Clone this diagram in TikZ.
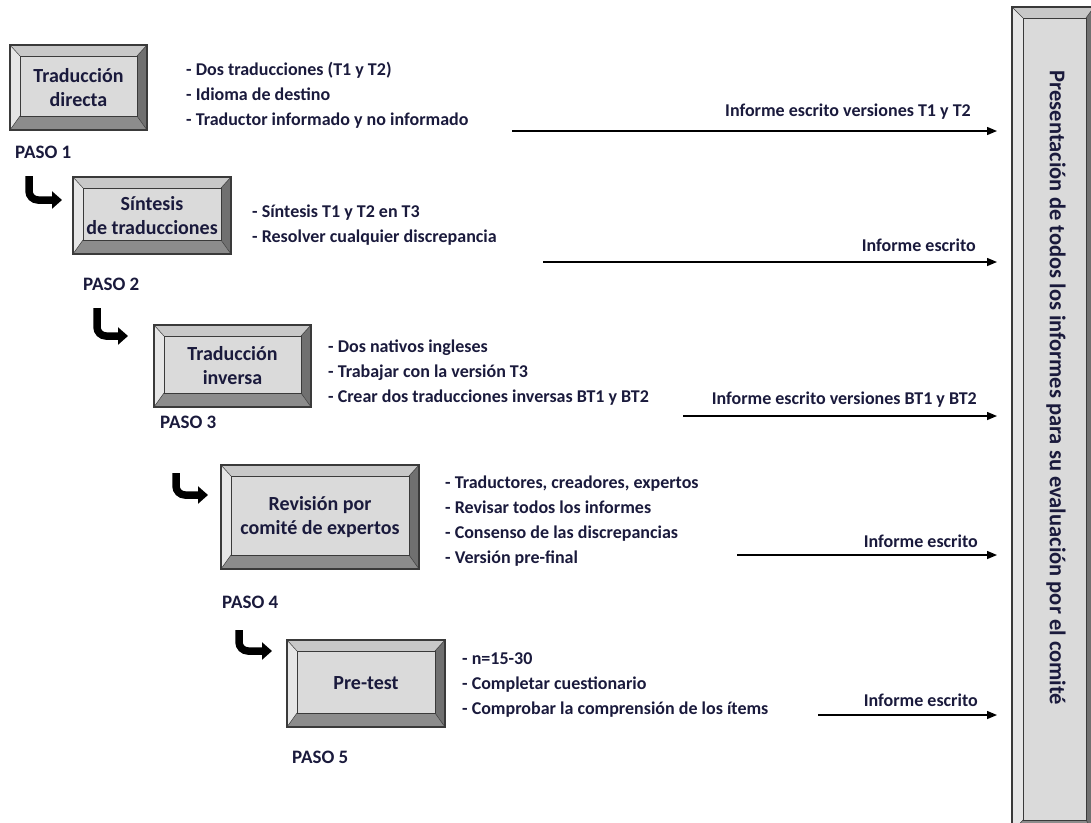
\documentclass[tikz,border=0pt]{standalone}
\usepackage{fontspec}
\setmainfont{Carlito}
\usetikzlibrary{arrows.meta}

\definecolor{ink}{HTML}{1A1A3C}
\definecolor{facegray}{HTML}{DADADA}
\definecolor{bvtopc}{HTML}{C8C8C8}
\definecolor{bvleftc}{HTML}{E6E6E6}
\definecolor{bvrightc}{HTML}{707070}
\definecolor{bvbotc}{HTML}{8C8C8C}
\definecolor{edgec}{HTML}{3A3A3A}

\tikzset{
  boxtext/.style={font=\fontsize{20}{24}\selectfont\bfseries, text=ink, align=center, inner sep=0pt},
  coltext/.style={font=\fontsize{22.5}{26}\selectfont\bfseries, text=ink, inner sep=0pt},
  bullets/.style={font=\fontsize{18}{25}\selectfont\bfseries, text=ink, align=left, anchor=west, inner sep=0pt},
  pasolabel/.style={font=\fontsize{19}{22}\selectfont\bfseries, text=ink, anchor=west, inner sep=0pt},
  reportlabel/.style={font=\fontsize{18}{22}\selectfont\bfseries, text=ink, anchor=east, inner sep=0pt},
  report/.style={line width=1.4pt, black, -{Triangle[length=10pt,width=8pt]}},
  curl/.style={line width=7.5pt, black, rounded corners=9pt, -{Triangle[length=10pt,width=17pt]}},
}

% Beveled button: name, x1, y1, x2, y2, label
\def\bvl{10}\def\bvt{11}\def\bvr{10}\def\bvb{14}
\newcommand\bevbox[6]{%
  \fill[bvtopc] (#2,#3) -- (#4,#3) -- ({#4-\bvr},{#3+\bvt}) -- ({#2+\bvl},{#3+\bvt}) -- cycle;
  \fill[bvleftc] (#2,#3) -- ({#2+\bvl},{#3+\bvt}) -- ({#2+\bvl},{#5-\bvb}) -- (#2,#5) -- cycle;
  \fill[bvrightc] (#4,#3) -- (#4,#5) -- ({#4-\bvr},{#5-\bvb}) -- ({#4-\bvr},{#3+\bvt}) -- cycle;
  \fill[bvbotc] (#2,#5) -- (#4,#5) -- ({#4-\bvr},{#5-\bvb}) -- ({#2+\bvl},{#5-\bvb}) -- cycle;
  \draw[edgec, line width=0.5pt] (#2,#3) -- ({#2+\bvl},{#3+\bvt}) (#4,#3) -- ({#4-\bvr},{#3+\bvt})
    (#2,#5) -- ({#2+\bvl},{#5-\bvb}) (#4,#5) -- ({#4-\bvr},{#5-\bvb});
  \fill[facegray, draw=edgec, line width=0.8pt] ({#2+\bvl},{#3+\bvt}) rectangle ({#4-\bvr},{#5-\bvb});
  \draw[edgec, line width=1.6pt] (#2,#3) rectangle (#4,#5);
  \node[boxtext] (#1) at ({(#2+#4)/2},{(#3+#5)/2}) {#6};
}

\begin{document}
\begin{tikzpicture}[x=1pt, y=-1pt]
\useasboundingbox (0,0) rectangle (1091,822);
\clip (0,0) rectangle (1091,822);

% Steps
\bevbox{s1}{10}{45}{147}{130}{Traducción\\directa}
\bevbox{s2}{73}{177}{231}{254}{Síntesis\\de traducciones}
\bevbox{s3}{154}{325}{311}{407}{Traducción\\inversa}
\bevbox{s4}{221}{465}{419}{569}{Revisión por\\comité de expertos}
\bevbox{s5}{287}{640}{445}{727}{Pre-test}

% Committee column
\begingroup
\def\bvl{11}\def\bvt{11}\def\bvr{8}\def\bvb{12}
\bevbox{committee}{1012}{7}{1094}{832}{}
\endgroup
\node[coltext, rotate=-90] (ctext) at (1056,388)
  {Presentación de todos los informes para su evaluación por el comité};

% Step labels
\node[pasolabel] (p1) at (15,152) {PASO 1};
\node[pasolabel] (p2) at (83,284) {PASO 2};
\node[pasolabel] (p3) at (160,422) {PASO 3};
\node[pasolabel] (p4) at (222,602) {PASO 4};
\node[pasolabel] (p5) at (292,757) {PASO 5};

% Step details
\node[bullets] (d1) at (186,95) {- Dos traducciones (T1 y T2)\\- Idioma de destino\\- Traductor informado y no informado};
\node[bullets] (d2) at (252,225) {- Síntesis T1 y T2 en T3\\- Resolver cualquier discrepancia};
\node[bullets] (d3) at (328,373) {- Dos nativos ingleses\\- Trabajar con la versión T3\\- Crear dos traducciones inversas BT1 y BT2};
\node[bullets] (d4) at (445,521) {- Traductores, creadores, expertos\\- Revisar todos los informes\\- Consenso de las discrepancias\\- Versión pre-final};
\node[bullets] (d5) at (462,685) {- n=15-30\\- Completar cuestionario\\- Comprobar la comprensión de los ítems};

% Reports sent to the committee
\coordinate (r1a) at (512,131); \coordinate (r1b) at (997,131);
\coordinate (r2a) at (543,262); \coordinate (r2b) at (997,262);
\coordinate (r3a) at (683,416); \coordinate (r3b) at (997,416);
\coordinate (r4a) at (737,555); \coordinate (r4b) at (997,555);
\coordinate (r5a) at (818,715); \coordinate (r5b) at (997,715);
\draw[report] (r1a) -- (r1b);
\draw[report] (r2a) -- (r2b);
\draw[report] (r3a) -- (r3b);
\draw[report] (r4a) -- (r4b);
\draw[report] (r5a) -- (r5b);
\node[reportlabel] (l1) at (971,112) {Informe escrito versiones T1 y T2};
\node[reportlabel] (l2) at (976,245) {Informe escrito};
\node[reportlabel] (l3) at (977,400) {Informe escrito versiones BT1 y BT2};
\node[reportlabel] (l4) at (978,541) {Informe escrito};
\node[reportlabel] (l5) at (978,700) {Informe escrito};

% Step-to-step hooks
\coordinate (c1a) at (29,176); \coordinate (c1b) at (29,200); \coordinate (c1c) at (62,200);
\coordinate (c2a) at (97,308); \coordinate (c2b) at (97,336); \coordinate (c2c) at (128,336);
\coordinate (c3a) at (176,473); \coordinate (c3b) at (176,495); \coordinate (c3c) at (208,495);
\coordinate (c4a) at (239,630); \coordinate (c4b) at (239,651); \coordinate (c4c) at (272,651);
\draw[curl] (c1a) -- (c1b) -- (c1c);
\draw[curl] (c2a) -- (c2b) -- (c2c);
\draw[curl] (c3a) -- (c3b) -- (c3c);
\draw[curl] (c4a) -- (c4b) -- (c4c);
\end{tikzpicture}
\end{document}
